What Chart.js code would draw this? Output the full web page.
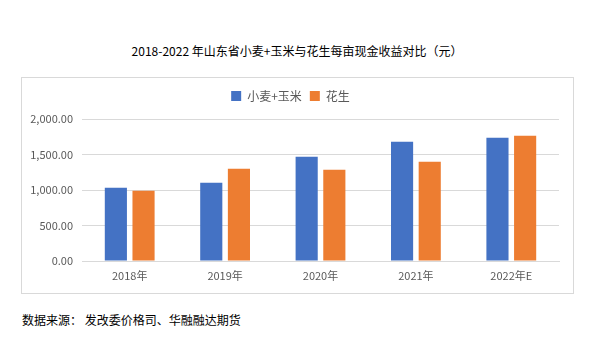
<!DOCTYPE html>
<html>
<head>
<meta charset="utf-8">
<script src="https://cdn.jsdelivr.net/npm/chart.js@4/dist/chart.umd.min.js"></script>
<style>
  html, body { margin: 0; padding: 0; background: #ffffff; }
  body { width: 615px; height: 341px; position: relative; overflow: hidden;
         font-family: "Noto Sans CJK SC", "Noto Sans", sans-serif; }
  #title { position: absolute; left: 0; width: 594px; top: 42px; text-align: center;
           font-size: 12px; line-height: 17px; color: #000; }
  #box { position: absolute; left: 21px; top: 77px; width: 551px; height: 215px;
         border: 1px solid #D9D9D9; }
  #wrap { position: absolute; left: 0; top: 0; width: 551px; height: 215px; }
  #source { position: absolute; left: 22px; top: 311px; font-size: 12px; line-height: 18px; color: #000; white-space: pre; }
</style>
</head>
<body>
<div id="title">2018-2022 年山东省小麦+玉米与花生每亩现金收益对比（元）</div>
<div id="box"><div id="wrap"><canvas id="c"></canvas></div></div>
<div id="source">数据来源： 发改委价格司、华融融达期货</div>
<script>
const categories = ["2018年", "2019年", "2020年", "2021年", "2022年E"];
const seriesNames = ["小麦+玉米", "花生"];
const wheatCorn = [1033, 1103, 1470, 1681, 1737];
const peanut = [991, 1300, 1286, 1399, 1765];
const yTicks = [0, 500, 1000, 1500, 2000];

const fontFamily = '"Noto Sans CJK SC", "Noto Sans", sans-serif';

const legendSpacer = {
  id: 'legendSpacer',
  afterInit(chart) {
    const lg = chart.legend;
    if (!lg) return;
    const orig = lg.fit.bind(lg);
    lg.fit = function () { orig(); this.height += 7; };
  }
};

new Chart(document.getElementById('c'), {
  type: 'bar',
  data: {
    labels: categories,
    datasets: [
      { label: seriesNames[0], data: wheatCorn, backgroundColor: '#4472C4', borderWidth: 0,
        categoryPercentage: 0.58, barPercentage: 0.8 },
      { label: seriesNames[1], data: peanut, backgroundColor: '#ED7D31', borderWidth: 0,
        categoryPercentage: 0.58, barPercentage: 0.8 }
    ]
  },
  plugins: [legendSpacer],
  options: {
    responsive: true,
    maintainAspectRatio: false,
    animation: false,
    devicePixelRatio: 1,
    layout: { padding: { left: 0, right: 14, top: 4, bottom: 0 } },
    plugins: {
      tooltip: { enabled: false },
      title: { display: false },
      legend: {
        display: true,
        position: 'top',
        align: 'center',
        labels: {
          boxWidth: 10, boxHeight: 10, padding: 8,
          color: '#595959',
          font: { family: fontFamily, size: 12 }
        }
      }
    },
    scales: {
      x: {
        grid: { display: false, drawTicks: false },
        border: { display: true, color: '#D9D9D9', width: 1 },
        ticks: { color: '#595959', font: { family: fontFamily, size: 11 }, padding: 8, maxRotation: 0 },
        afterFit: (s) => { s.height = 32; }
      },
      y: {
        min: 0, max: 2000,
        afterBuildTicks: (s) => { s.ticks = yTicks.map(v => ({ value: v })); },
        grid: { color: '#D9D9D9', drawTicks: false, lineWidth: 1 },
        border: { display: false },
        ticks: {
          color: '#595959', font: { family: fontFamily, size: 11 }, padding: 9,
          callback: (v) => Number(v).toLocaleString('en-US', { minimumFractionDigits: 2, maximumFractionDigits: 2 })
        },
        afterFit: (s) => { s.width = 60; }
      }
    }
  }
});
</script>
</body>
</html>
